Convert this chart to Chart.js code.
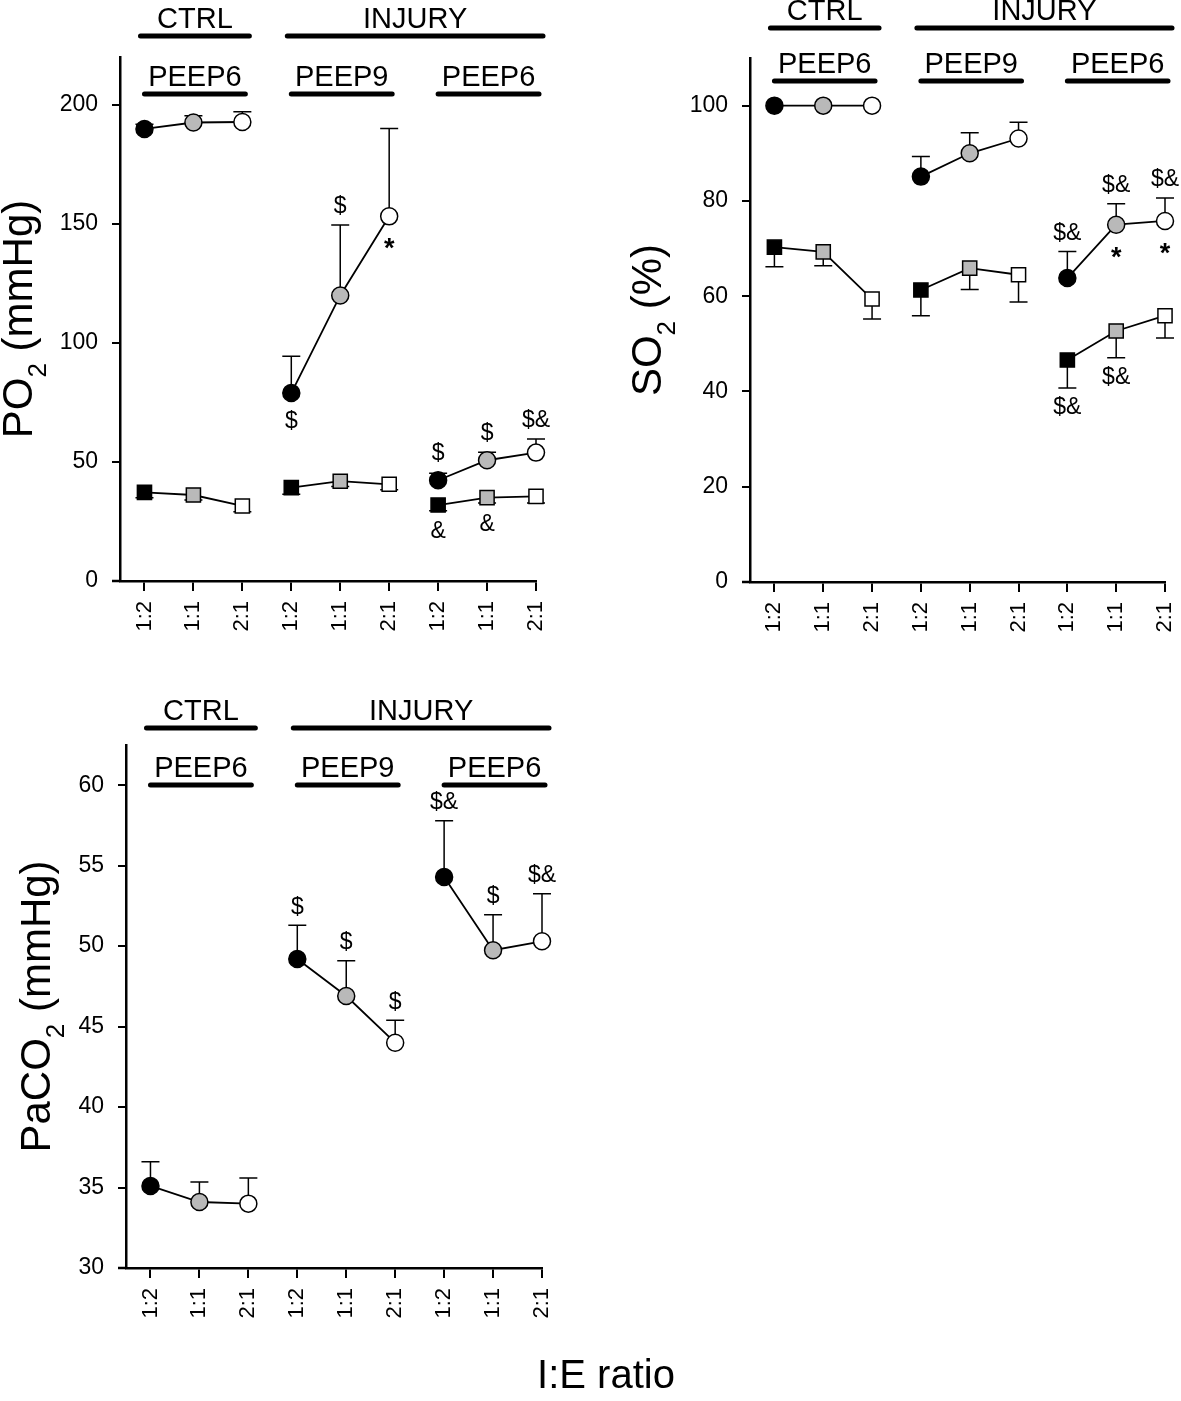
<!DOCTYPE html>
<html>
<head>
<meta charset="utf-8">
<script src="https://cdn.jsdelivr.net/npm/chart.js@4.4.1/dist/chart.umd.min.js"></script>
<style>
  body { margin: 0; background: #fff; }
  .panel { position: absolute; }
</style>
</head>
<body>
<div class="panel" style="left:0;top:0"><canvas id="po2Chart" width="590" height="680"></canvas></div>
<div class="panel" style="left:590px;top:0"><canvas id="so2Chart" width="591" height="680"></canvas></div>
<div class="panel" style="left:0;top:680px"><canvas id="paco2Chart" width="1181" height="721"></canvas></div>
<script>
// ===== DATA =====
const ieLabels = ['1:2', '1:1', '2:1', '1:2', '1:1', '2:1', '1:2', '1:1', '2:1'];
const topHeaders = ['CTRL', 'INJURY'];
const topSpans = [[0, 2], [3, 8]];
const subHeaders = ['PEEP6', 'PEEP9', 'PEEP6'];
const subSpans = [[0, 2], [3, 5], [6, 8]];

// PO2 (mmHg): circles with error up, squares with error down
const po2Ticks = [0, 50, 100, 150, 200];
const po2Circle = [189.8, 192.5, 192.7, 78.9, 119.9, 153.1, 42.3, 50.7, 53.9];
const po2CircleErr = [2.0, 2.8, 4.3, 15.5, 29.6, 36.9, 2.9, 3.4, 5.7];
const po2Square = [37.2, 36.1, 31.5, 39.2, 41.9, 40.6, 31.9, 35.0, 35.5];
const po2SquareErr = [2.2, 2.1, 2.4, 2.8, 2.2, 2.3, 2.4, 2.2, 2.7];
const po2CircleAbove = ['', '', '', '', '$', '', '$', '$', '$&'];
const po2CircleBelow = ['', '', '', '$', '', '*', '', '', ''];
const po2SquareBelow = ['', '', '', '', '', '', '&', '&', ''];

// SO2 (%)
const so2Ticks = [0, 20, 40, 60, 80, 100];
const so2Circle = [100, 100, 100, 85.1, 90.0, 93.1, 63.8, 75.0, 75.8];
const so2CircleErr = [0, 0, 0, 4.2, 4.3, 3.4, 5.6, 4.4, 4.8];
const so2Square = [70.3, 69.3, 59.4, 61.3, 65.9, 64.5, 46.6, 52.7, 55.9];
const so2SquareErr = [4.1, 2.9, 4.2, 5.4, 4.5, 5.7, 5.9, 5.6, 4.7];
const so2CircleAbove = ['', '', '', '', '', '', '$&', '$&', '$&'];
const so2CircleBelow = ['', '', '', '', '', '', '', '*', '*'];
const so2SquareBelow = ['', '', '', '', '', '', '$&', '$&', ''];

// PaCO2 (mmHg)
const paco2Ticks = [30, 35, 40, 45, 50, 55, 60];
const paco2Circle = [35.1, 34.1, 34.0, 49.2, 46.9, 44.0, 54.3, 49.75, 50.3];
const paco2CircleErr = [1.5, 1.25, 1.6, 2.1, 2.2, 1.4, 3.5, 2.2, 2.95];
const paco2CircleAbove = ['', '', '', '$', '$', '$', '$&', '$', '$&'];

// ===== STYLE =====
const FONT = "'Liberation Sans', Arial, Helvetica, sans-serif";
const FILLS = ['#000000', '#b9b9b9', '#ffffff'];
const CIRCLE_R = 8.5;
const RECT_R = 10;
Chart.defaults.font.family = FONT;
Chart.defaults.color = '#000';

function groupSets(values, shape) {
    return [0, 1, 2].map(g => ({
        data: [0, 1, 2].map(k => ({ x: 3 * g + k, y: values[3 * g + k] })),
        pointStyle: shape,
        pointRadius: shape === 'rect' ? RECT_R : CIRCLE_R,
        pointBackgroundColor: FILLS,
        pointBorderColor: '#000',
        pointBorderWidth: 1.5,
        borderColor: '#000',
        borderWidth: 1.8,
        clip: false
    }));
}

// error bars, significance marks, group headers, axis title
const panelDecor = {
    id: 'panelDecor',
    beforeDatasetsDraw(chart) {
        const cfg = chart.options.plugins.panelDecor;
        const xs = chart.scales.x, ys = chart.scales.y, ctx = chart.ctx;
        ctx.save();
        ctx.strokeStyle = '#000';
        ctx.lineWidth = 1.5;
        cfg.series.forEach(s => {
            s.values.forEach((v, i) => {
                const e = s.errors[i];
                if (!e) return;
                const x = xs.getPixelForValue(i);
                const y0 = ys.getPixelForValue(v);
                const y1 = ys.getPixelForValue(v + s.dir * e);
                ctx.beginPath();
                ctx.moveTo(x, y0); ctx.lineTo(x, y1);
                ctx.moveTo(x - 9, y1); ctx.lineTo(x + 9, y1);
                ctx.stroke();
            });
        });
        ctx.restore();
    },
    afterDatasetsDraw(chart) {
        const cfg = chart.options.plugins.panelDecor;
        const xs = chart.scales.x, ys = chart.scales.y, ctx = chart.ctx;
        ctx.save();
        ctx.fillStyle = '#000';
        ctx.textAlign = 'center';
        ctx.textBaseline = 'middle';
        cfg.series.forEach(s => {
            const r = s.shape === 'rect' ? RECT_R * Math.SQRT1_2 : CIRCLE_R;
            s.values.forEach((v, i) => {
                const x = xs.getPixelForValue(i);
                const y0 = ys.getPixelForValue(v);
                const y1 = s.errors[i] ? ys.getPixelForValue(v + s.dir * s.errors[i]) : y0;
                const top = Math.min(y0 - r, y1);
                const bottom = Math.max(y0 + r, y1);
                const up = s.above ? s.above[i] : '';
                const down = s.below ? s.below[i] : '';
                if (up) {
                    ctx.font = '23px ' + FONT;
                    ctx.fillText(up, x, top - 18);
                }
                if (down === '*') {
                    ctx.font = 'bold 27px ' + FONT;
                    ctx.fillText(down, x, bottom + 25);
                } else if (down) {
                    ctx.font = '23px ' + FONT;
                    ctx.fillText(down, x, bottom + 20);
                }
            });
        });
        ctx.restore();
    },
    afterDraw(chart) {
        const cfg = chart.options.plugins.panelDecor;
        const xs = chart.scales.x, area = chart.chartArea, ctx = chart.ctx;
        ctx.save();
        ctx.strokeStyle = '#000';
        ctx.fillStyle = '#000';
        // x axis runs a little past the y axis
        ctx.lineWidth = 2.5;
        ctx.beginPath();
        ctx.moveTo(area.left - 8, area.bottom);
        ctx.lineTo(area.left, area.bottom);
        ctx.stroke();

        ctx.lineWidth = 5;
        ctx.lineCap = 'round';
        ctx.font = '29px ' + FONT;
        ctx.textAlign = 'center';
        ctx.textBaseline = 'alphabetic';
        const drawHeader = (label, span, y, padL, padR) => {
            const x0 = xs.getPixelForValue(span[0]) - padL;
            const x1 = xs.getPixelForValue(span[1]) + padR;
            ctx.beginPath();
            ctx.moveTo(x0, y); ctx.lineTo(x1, y);
            ctx.stroke();
            ctx.fillText(label, (x0 + x1) / 2, y - 8);
        };
        topHeaders.forEach((t, k) => drawHeader(t, topSpans[k], area.top + cfg.topLine, 4, 7));
        subHeaders.forEach((t, k) => drawHeader(t, subSpans[k], area.top + cfg.subLine, 0, 3));

        // y axis title with subscript
        const big = '42px ' + FONT, small = '26px ' + FONT;
        const parts = cfg.title;
        ctx.font = big;
        const w0 = ctx.measureText(parts[0]).width, w2 = ctx.measureText(parts[2]).width;
        ctx.font = small;
        const w1 = ctx.measureText(parts[1]).width;
        ctx.translate(cfg.titleX, (area.top + area.bottom) / 2);
        ctx.rotate(-Math.PI / 2);
        ctx.textAlign = 'left';
        let cx = -(w0 + w1 + w2) / 2;
        ctx.font = big; ctx.fillText(parts[0], cx, 0); cx += w0;
        ctx.font = small; ctx.fillText(parts[1], cx, 14); cx += w1;
        ctx.font = big; ctx.fillText(parts[2], cx, 0);
        ctx.restore();

        if (cfg.xTitle) {
            ctx.save();
            ctx.fillStyle = '#000';
            ctx.font = '40px ' + FONT;
            ctx.textAlign = 'center';
            ctx.textBaseline = 'alphabetic';
            ctx.fillText(cfg.xTitle, cfg.xTitlePos[0], cfg.xTitlePos[1]);
            ctx.restore();
        }
    }
};

function makePanel(id, p) {
    const ctx = document.getElementById(id);
    const datasets = [];
    p.series.forEach(s => datasets.push(...groupSets(s.values, s.shape)));
    return new Chart(ctx, {
        type: 'line',
        data: { datasets },
        plugins: [panelDecor],
        options: {
            responsive: false,
            animation: false,
            events: [],
            layout: { padding: { top: p.padTop, right: p.padRight, left: 0, bottom: 0 } },
            plugins: {
                legend: { display: false },
                tooltip: { enabled: false },
                panelDecor: p
            },
            scales: {
                x: {
                    type: 'linear',
                    min: -0.5,
                    max: 8,
                    afterBuildTicks: s => { s.ticks = ieLabels.map((_, i) => ({ value: i })); },
                    afterFit: s => { s.height = p.xH; s.paddingLeft = 0; s.paddingRight = 0; },
                    ticks: {
                        callback: v => ieLabels[v],
                        minRotation: 90,
                        maxRotation: 90,
                        autoSkip: false,
                        padding: 10,
                        font: { size: 22 }
                    },
                    grid: { display: true, drawOnChartArea: false, drawTicks: true, tickLength: 10, color: '#000', lineWidth: 2 },
                    border: { display: true, color: '#000', width: 2.5 }
                },
                y: {
                    min: p.yMin,
                    max: p.yMax,
                    afterBuildTicks: s => { s.ticks = p.ticks.map(v => ({ value: v })); },
                    afterFit: s => { s.width = p.yW; s.paddingTop = 0; s.paddingBottom = 0; },
                    ticks: { padding: 14, font: { size: 23 } },
                    grid: { display: true, drawOnChartArea: false, drawTicks: true, tickLength: 8, color: '#000', lineWidth: 2 },
                    border: { display: true, color: '#000', width: 2.5 }
                }
            }
        }
    });
}

// ===== PO2 =====
makePanel('po2Chart', {
    series: [
        { values: po2Circle, errors: po2CircleErr, dir: 1, shape: 'circle', above: po2CircleAbove, below: po2CircleBelow },
        { values: po2Square, errors: po2SquareErr, dir: -1, shape: 'rect', below: po2SquareBelow }
    ],
    ticks: po2Ticks, yMin: 0, yMax: 220,
    yW: 120, xH: 99, padTop: 57, padRight: 54,
    topLine: -21, subLine: 37,
    title: ['PO', '2', ' (mmHg)'], titleX: 32
});

// ===== SO2 =====
makePanel('so2Chart', {
    series: [
        { values: so2Circle, errors: so2CircleErr, dir: 1, shape: 'circle', above: so2CircleAbove, below: so2CircleBelow },
        { values: so2Square, errors: so2SquareErr, dir: -1, shape: 'rect', below: so2SquareBelow }
    ],
    ticks: so2Ticks, yMin: 0, yMax: 110,
    yW: 160, xH: 98, padTop: 58, padRight: 16,
    topLine: -30, subLine: 23,
    title: ['SO', '2', ' (%)'], titleX: 71
});

// ===== PaCO2 =====
makePanel('paco2Chart', {
    series: [
        { values: paco2Circle, errors: paco2CircleErr, dir: 1, shape: 'circle', above: paco2CircleAbove }
    ],
    ticks: paco2Ticks, yMin: 30, yMax: 62.5,
    yW: 126, xH: 133, padTop: 65, padRight: 639,
    topLine: -17, subLine: 40,
    title: ['PaCO', '2', ' (mmHg)'], titleX: 50,
    xTitle: 'I:E ratio', xTitlePos: [606, 708]
});
</script>
</body>
</html>
